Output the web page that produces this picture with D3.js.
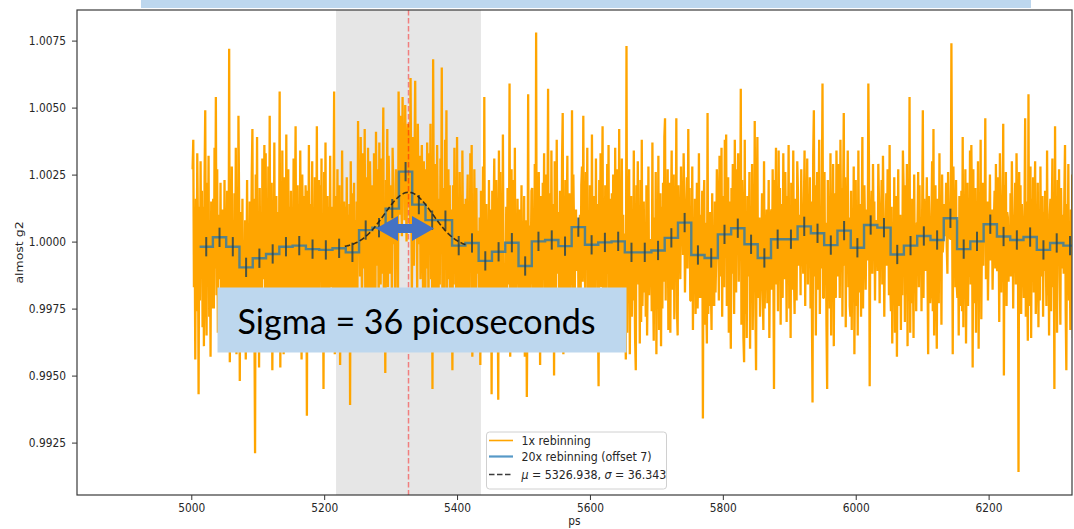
<!DOCTYPE html>
<html>
<head>
<meta charset="utf-8">
<script src="https://cdn.jsdelivr.net/npm/d3@7"></script>
<style>
  body { margin: 0; background: #fff; }
  svg { display: block; }
  text { font-family: "DejaVu Sans", sans-serif; fill: #262626; }
</style>
</head>
<body>
<svg id="chart" width="1074" height="529"></svg>
<script>
// ---- data -------------------------------------------------------------
// 1x rebinning: one sample per ps starting at rawStart; values are the
// deviation from 1 in units of 1e-4
const rawStart = 5002;
const rawDev = [
  27, 38, -17, 10, -44, 16, -26, 33, 7, -57, 13,
  -22, 30, -7, 19, -32, 13, -39, 24, 49, -15, -35, 22, -11, 32, -28, 5, -43, 15, -25, 2,
  16, -25, 35, -10, 54, -20, 27, -34, 10, 4, -14, 22, -30, 8, 12, -18, -27, 23, -5, -3,
  -28, 19, -11, -38, 72, -45, 11, -21, 28, -40, 8, -30, 18, -22, 35, -42, 4, -37, 47, 15,
  -52, 11, -32, -15, 16, -37, -7, -26, 8, -44, -13, 23, -35, -1, -20, 15, -30, -5, 25, 42,
  -18, 16, -29, -79, 25, -6, 39, -34, 6, -47, 20, -23, 11, -41, 31, -14, -3, 36, -25, 33,
  -33, 13, -17, 28, -39, 47, -25, -8, 22, -48, 8, -15, 37, -32, -3, 17, -38, 11, -24, -16,
  56, -47, 17, -26, 34, -11, -42, 24, 6, -33, 40, -19, -7, 27, -35, 13, -22, 19, -30, 2,
  -16, 31, -39, 9, 43, -29, -7, 21, -35, 14, -21, 34, -10, -44, 25, 3, -30, 17, -26, 21,
  11, -65, 19, -22, 36, -13, -30, 14, -3, 30, -37, 8, -20, 24, -26, -8, 43, -41, 9, 23,
  -25, 21, -9, 31, -34, 6, -55, 26, -15, 37, -20, -6, 17, -39, 13, -24, 32, -17, 4, 13,
  -21, 9, 56, -42, 17, -30, -11, 27, -35, 5, 21, -46, 11, -16, 34, -26, -4, 15, -38, 13,
  -17, 24, -32, 10, -24, 14, -61, 30, -9, -34, 18, -3, 22, -41, 8, -28, 15, -20, 45, 1,
  15, -13, 39, 4, -24, 33, 19, -10, 42, -30, 24, 9, -18, 35, 2, -22, 30, 13, -27, -30,
  21, -20, 33, 6, -29, 41, 10, -9, 27, -27, 37, 2, -16, 31, -12, 16, 50, -36, 7, -49,
  23, 1, 42, -17, 32, 17, -12, 21, 10, -24, 35, 21, -1, 9, -20, 27, 6, 26, -26, 56,
  31, 10, 47, 17, 2, 54, 27, 41, 8, 51, 21, 0, 35, 44, 14, 30, 6, 61, 23, -21,
  19, 39, -9, 29, 60, 8, 23, -20, 44, 14, -1, 32, -14, 21, 36, 4, -24, 30, 10, -37,
  27, -10, 37, 15, -25, 33, 3, 44, -14, 24, -55, 68, 11, -20, 29, 19, -29, 36, 7, -31,
  16, -16, 31, 2, 65, -28, 20, 8, -36, 38, 1, 49, -22, 14, 27, -14, 21, -41, 12, -10,
  -48, 21, -16, 35, -7, 12, -31, 39, -22, 5, -40, 26, -10, 17, -29, 34, 1, -25, 14, -1,
  16, -30, 9, 25, -38, 5, -18, 33, -8, 36, -43, 13, -23, 27, -3, -34, 20, -12, 4, -3,
  -25, 9, -46, 19, -20, -8, 28, -37, 54, -29, -12, 14, -18, 5, -23, 23, -20, -6, 12, -57,
  19, -25, 9, 31, -16, -35, 23, 2, -11, -59, 34, -4, 26, -28, 11, -20, 40, -13, -8, -38,
  -23, 13, -35, 20, 4, -16, 59, -43, 10, 27, -33, -5, 23, -21, 35, -39, 8, -13, 16, -16,
  -26, 12, -37, -9, 21, -31, -1, -20, 17, -43, -13, 8, -58, -23, 55, -35, 6, -18, -7, 19,
  20, -31, 12, -17, 29, -39, 78, -35, 8, -21, 26, -10, -46, 17, 5, -27, 22, -14, 33, -29,
  -13, 25, -29, 10, 57, -36, 4, 18, -22, 34, -7, -40, 14, -50, 30, 8, -18, 38, -12, 3,
  11, -33, 19, -6, -24, 30, 48, -42, 2, -15, 23, -35, 8, 32, -25, -11, 18, -39, 14, -16,
  49, -18, 25, 6, -25, 5, 12, -11, 5, 1, -29, 3, 10, -20, 21, 28, -15, 47, -10, -7,
  -20, 26, -10, 35, -30, 5, -39, 21, 12, -25, 40, -16, -34, 17, 3, -27, 31, -9, 14, -26,
  -54, 23, -8, 33, -17, 13, 43, -27, 9, -36, 21, 4, -22, 29, -12, 36, -31, 7, 16, -30,
  18, -33, 25, 3, -21, 35, -12, -40, 27, 8, -18, 42, -26, 13, -4, 31, -35, 10, -23, 3,
  -25, -44, 73, -34, 13, -19, 27, -42, -4, 17, -28, 9, -22, 34, -13, -37, -48, 21, -8, 30,
  -16, 11, -38, 23, -30, 38, -24, -7, 15, -19, 6, -28, 21, -35, -11, 28, -20, -3, -11, 1,
  -26, 37, -17, -37, 9, -22, 26, -42, 4, -12, 32, -33, -8, 18, -39, 13, -25, 22, -15, 39,
  46, -22, 16, -10, 27, -33, 7, 22, -34, 12, 34, -18, -4, 25, -29, 10, -14, 46, -26, -35,
  21, 3, 10, -14, 28, 5, 12, -5, 33, 16, -19, -1, 8, 24, -10, 42, 2, 20, -22, -22,
  -14, 28, -33, 6, -19, 16, -27, -5, 22, -25, -10, 33, -21, 10, -21, -1, 19, -66, 12, 23,
  -31, 7, -21, -38, 48, -27, -10, -24, 11, -16, -33, 18, -24, -2, -24, 15, -19, -6, 27, 14,
  13, -22, 32, 3, -13, 35, -28, 17, 7, -17, 38, -6, 40, -24, 11, 24, -34, 15, -11, -40,
  20, -12, 29, 5, -27, 38, 11, -19, 27, 1, 33, -15, 16, -6, 57, -31, 23, 6, -36, -45,
  38, -27, 8, -36, 17, -13, -4, 26, -40, 10, -22, 29, -33, 1, -16, 45, -25, -48, 14, 39,
  -21, -11, 9, -28, -10, -3, 18, -18, -33, 30, -25, -6, -1, 12, -23, -12, 23, -36, -3, 9,
  12, -18, 27, -9, -55, 23, 4, 35, -16, 8, -26, 34, -7, 20, -31, 14, 3, -21, 33, 0,
  -14, 26, 5, -30, 17, -8, 36, -25, 10, -36, 22, 3, -18, 34, -12, -27, 16, 7, -22, 30,
  19, -9, 8, 10, -20, 27, 2, -1, -12, 14, 34, -24, 23, 6, 31, -16, 16, -5, 24, -25,
  15, -24, -60, 32, 49, -13, 21, -35, 9, 26, -18, 4, 38, -27, 7, -10, 17, 59, -21, -21,
  26, -16, 7, -31, -55, 23, -4, 14, -25, 33, -35, 12, -10, 29, -39, 18, 1, -21, 34, 12,
  -13, 29, 8, -21, 38, 2, 20, -28, 13, 48, -9, 24, -32, 16, 4, 34, -17, 9, -24, -28,
  19, -33, 11, -13, 28, -42, -4, 23, -24, 5, -35, 34, -8, -19, 14, -28, 9, 39, -25, 9,
  21, 5, -18, 7, 12, -7, 59, 27, -54, 11, 10, 19, -12, 29, 2, 15, -22, 8, 6, 6,
  -11, 29, 15, -23, 12, 5, 23, -16, 32, 8, -28, 3, 1, 18, -9, 27, 11, -20, 36, -16,
  -26, 13, -38, 6, -19, 24, -34, -9, 17, -43, -2, 27, -24, -13, 10, -33, 5, -20, 34, 21,
  13, -30, 21, -12, 29, -39, 7, -18, 54, -34, 10, -23, 16, -7, -36, 25, -14, 4, -26, 7,
  7, 26, -17, 21, -6, 9, -26, 11, 49, -21, 16, 4, -11, 3, 24, -9, -42, 17, 2, -23,
  -18, 10, 30, -26, 42, -35, 7, 21, -12, -40, 16, 3, -23, 33, -8, 14, -31, 25, -4, 1,
  14, 5, 2, 22, -2, -12, 26, 10, 4, 1, 1, 74, 19, -42, 28, 7, 17, -17, 23, -16,
  -21, 8, -35, 17, -11, -24, 19, -26, 39, -32, 10, -17, 27, -38, -3, 22, -24, 4, -13, 34,
  -16, 36, 12, -47, 27, -23, 5, 20, -34, 13, -7, 30, -40, 10, -18, 38, -29, 4, 22, -9,
  21, 1, 46, -14, 7, 15, -22, -2, 6, 25, -7, 5, 12, -18, 2, 8, 19, -10, 29, -7,
  -11, 24, 6, -30, 33, 15, -19, 12, 3, 44, -50, 21, -9, 26, -24, 11, 9, -15, 2, -13,
  18, -13, 30, 8, -25, 10, 1, 22, -16, 33, 12, 20, -86, 26, -5, 21, -27, 14, 4, -5,
  -21, 11, 46, -28, 15, -9, -37, 55, -24, 4, 28, -36, 16, -13, 24, -19, 8, 30, -27, -14,
  -13, 22, -32, 5, -22, 28, -13, -8, 17, -28, 11, -11, 19, -4, -24, 34, -20, 4, -35, 10,
  16, -26, 9, 31, -17, 7, -55, 43, -22, 13, -34, 23, -4, 27, -12, -31, 20, 3, -10, 10,
  -12, 18, 36, -26, -48, 14, -8, 29, -22, 4, -33, 12, -16, 25, -36, 7, -18, 26, -5, 18
];

// 20x rebinning (offset 7): bin means, bins 20 ps wide from binStart
const binStart = 5012.5;
const binWidth = 20;
const binValues = [
  0.99981, 1.00016, 0.99981, 0.99904, 0.99938, 0.99954, 0.99981, 0.99985, 0.99972, 0.99969,
  0.99975, 0.99960, 1.00043, 1.00052, 1.00123, 1.00261, 1.00138, 1.00080, 1.00080, 0.99985,
  0.99995, 0.99928, 0.99962, 0.99996, 0.99909, 1.00001, 1.00006, 0.99983, 1.00054, 0.99988,
  0.99997, 1.00001, 0.99960, 0.99960, 0.99967, 1.00014, 1.00071, 0.99950, 0.99939, 1.00027,
  1.00050, 0.99990, 0.99939, 1.00009, 1.00009, 1.00057, 1.00031, 0.99987, 1.00041, 0.99977,
  1.00062, 1.00052, 0.99952, 0.99985, 1.00021, 1.00006, 1.00087, 0.99972, 1.00001, 1.00065,
  1.00019, 1.00006, 1.00017, 0.99969, 0.99995, 0.99985
];
const binError = 0.00036;

// Gaussian fit on top of a flat baseline
const fitMu = 5326.938;
const fitSigma = 36.343;
const fitAmplitude = 0.00208;
const fitBaseline = 0.99976;
const fitRange = [5231, 5414];

const xTicks = [5000, 5200, 5400, 5600, 5800, 6000, 6200];
const yTicks = [0.9925, 0.9950, 0.9975, 1.0000, 1.0025, 1.0050, 1.0075];

const legendLabels = ["1x rebinning", "20x rebinning (offset 7)"];
const noteText = "Sigma = 36 picoseconds";

// ---- layout -----------------------------------------------------------
const svg = d3.select("#chart");
const plot = { left: 77, right: 1072, top: 10, bottom: 495 };
const x = d3.scaleLinear().domain([4828, 6325.5]).range([plot.left, plot.right]);
const y = d3.scaleLinear().domain([0.990545, 1.008642]).range([plot.bottom, plot.top]);
const squeeze = 0.85;   // horizontally condensed lettering

svg.append("defs").append("clipPath").attr("id", "plotClip")
  .append("rect")
  .attr("x", plot.left).attr("y", plot.top)
  .attr("width", plot.right - plot.left).attr("height", plot.bottom - plot.top);

const area = svg.append("g").attr("clip-path", "url(#plotClip)");

// ±3 sigma band around the fitted centre
area.append("rect")
  .attr("x", x(fitMu - 3 * fitSigma))
  .attr("width", x(fitMu + 3 * fitSigma) - x(fitMu - 3 * fitSigma))
  .attr("y", plot.top).attr("height", plot.bottom - plot.top)
  .attr("fill", "#e6e6e6");

// 1x rebinned trace
const rawLine = d3.line()
  .x((d, i) => x(rawStart + i))
  .y(d => y(1 + d / 1e4));
area.append("path")
  .datum(rawDev)
  .attr("d", rawLine)
  .attr("fill", "none")
  .attr("stroke", "#ffa500")
  .attr("stroke-width", 2.3)
  .attr("stroke-linejoin", "bevel");

// 20x rebinned steps
const bins = binValues.map((v, k) => ({ c: binStart + binWidth * (k + 0.5), v }));
const stepPts = [{ c: binStart, v: bins[0].v }, ...bins,
  { c: binStart + binWidth * bins.length, v: bins[bins.length - 1].v }];
area.append("path")
  .datum(stepPts)
  .attr("d", d3.line().curve(d3.curveStep).x(d => x(d.c)).y(d => y(d.v)))
  .attr("fill", "none")
  .attr("stroke", "#1f77b4")
  .attr("stroke-opacity", 0.75)
  .attr("stroke-width", 2.4);

area.append("g").selectAll("line")
  .data(bins)
  .join("line")
  .attr("x1", d => x(d.c)).attr("x2", d => x(d.c))
  .attr("y1", d => y(d.v - binError)).attr("y2", d => y(d.v + binError))
  .attr("stroke", "#2b4650")
  .attr("stroke-opacity", 0.85)
  .attr("stroke-width", 2);

// Gaussian fit curve
const fitX = d3.range(fitRange[0], fitRange[1] + 0.5, 1);
area.append("path")
  .datum(fitX)
  .attr("d", d3.line()
    .x(t => x(t))
    .y(t => y(fitBaseline + fitAmplitude * Math.exp(-((t - fitMu) ** 2) / (2 * fitSigma ** 2)))))
  .attr("fill", "none")
  .attr("stroke", "#1a1a1a")
  .attr("stroke-opacity", 0.85)
  .attr("stroke-width", 1.6)
  .attr("stroke-dasharray", "5.5,2.5");

// fitted centre
area.append("line")
  .attr("x1", x(fitMu)).attr("x2", x(fitMu))
  .attr("y1", plot.top).attr("y2", plot.bottom)
  .attr("stroke", "red")
  .attr("stroke-opacity", 0.45)
  .attr("stroke-width", 1.5)
  .attr("stroke-dasharray", "5.5,2.5");

// ---- axes -------------------------------------------------------------
const xAxis = svg.append("g")
  .attr("transform", `translate(0,${plot.bottom})`)
  .call(d3.axisBottom(x).tickValues(xTicks).tickFormat(d3.format("d")).tickSize(5).tickSizeOuter(0));
xAxis.select(".domain").remove();
xAxis.selectAll(".tick line").attr("stroke", "#333").attr("stroke-width", 1);
xAxis.selectAll(".tick text")
  .attr("y", 8).attr("dy", "0.71em")
  .attr("font-size", 12.5)
  .attr("transform", `scale(${squeeze},1)`);

const yAxis = svg.append("g")
  .attr("transform", `translate(${plot.left},0)`)
  .call(d3.axisLeft(y).tickValues(yTicks).tickFormat(d3.format(".4f")).tickSize(5).tickSizeOuter(0));
yAxis.select(".domain").remove();
yAxis.selectAll(".tick line").attr("stroke", "#333").attr("stroke-width", 1);
yAxis.selectAll(".tick text")
  .attr("x", -11 / squeeze)
  .attr("font-size", 12.5)
  .attr("transform", `scale(${squeeze},1)`);

svg.selectAll(".tick text").style("fill", "#262626").style("font-family", "'DejaVu Sans', sans-serif");

// frame
svg.append("rect")
  .attr("x", plot.left).attr("y", plot.top)
  .attr("width", plot.right - plot.left).attr("height", plot.bottom - plot.top)
  .attr("fill", "none").attr("stroke", "#3a3a3a").attr("stroke-width", 1.2);

svg.append("text")
  .attr("transform", `translate(${(plot.left + plot.right) / 2},525) scale(${squeeze},1)`)
  .attr("text-anchor", "middle")
  .attr("font-size", 12.5)
  .text("ps");

svg.append("text")
  .attr("transform", `translate(23,${(plot.top + plot.bottom) / 2}) scale(${squeeze},1) rotate(-90)`)
  .attr("text-anchor", "middle")
  .attr("font-size", 12.5)
  .text("almost g2");

// ---- legend -----------------------------------------------------------
const lg = svg.append("g");
lg.append("rect")
  .attr("x", 486.5).attr("y", 432).attr("width", 180).attr("height", 57)
  .attr("rx", 3)
  .attr("fill", "#fff").attr("fill-opacity", 0.85)
  .attr("stroke", "#d0d0d0");
const rows = [
  { y: 440.5, stroke: "#ffa500", opacity: 1, dash: null, label: legendLabels[0] },
  { y: 456.5, stroke: "#1f77b4", opacity: 0.75, dash: null, label: legendLabels[1] },
  { y: 474.5, stroke: "#1a1a1a", opacity: 0.85, dash: "5.5,2.5", label: null }
];
rows.forEach(r => {
  lg.append("line")
    .attr("x1", 489).attr("x2", 513).attr("y1", r.y).attr("y2", r.y)
    .attr("stroke", r.stroke).attr("stroke-opacity", r.opacity)
    .attr("stroke-width", r.stroke === "#1f77b4" ? 2.2 : 1.6)
    .attr("stroke-dasharray", r.dash);
  const t = lg.append("text")
    .attr("transform", `translate(521.5,${r.y + 4.5}) scale(${squeeze},1)`)
    .attr("font-size", 13);
  if (r.label) {
    t.text(r.label);
  } else {
    t.append("tspan").attr("font-style", "italic").text("μ");
    t.append("tspan").text(` = ${fitMu}, `);
    t.append("tspan").attr("font-style", "italic").text("σ");
    t.append("tspan").text(` = ${fitSigma}`);
  }
});

// ---- annotations ------------------------------------------------------
svg.append("rect")
  .attr("x", 141).attr("y", -2).attr("width", 890).attr("height", 10)
  .attr("fill", "#bdd7ee");

svg.append("rect")
  .attr("x", 217.5).attr("y", 287.5).attr("width", 409).attr("height", 65)
  .attr("fill", "#bdd7ee");
svg.append("text")
  .attr("x", 237.5).attr("y", 333.5)
  .style("font-family", "Lato, 'Open Sans', sans-serif")
  .style("font-weight", 400)
  .attr("font-size", 35)
  .attr("textLength", 358)
  .attr("lengthAdjust", "spacingAndGlyphs")
  .style("fill", "#000")
  .text(noteText);

// double-headed arrow spanning the fitted width
const arrowY = 228.5, tipL = 376, tipR = 434, head = 22, halfH = 12.5, halfS = 4.5;
svg.append("path")
  .attr("d", `M${tipL},${arrowY} L${tipL + head},${arrowY - halfH} L${tipL + head},${arrowY - halfS}
    L${tipR - head},${arrowY - halfS} L${tipR - head},${arrowY - halfH} L${tipR},${arrowY}
    L${tipR - head},${arrowY + halfH} L${tipR - head},${arrowY + halfS} L${tipL + head},${arrowY + halfS}
    L${tipL + head},${arrowY + halfH} Z`)
  .attr("fill", "#4472c4");
</script>
</body>
</html>
